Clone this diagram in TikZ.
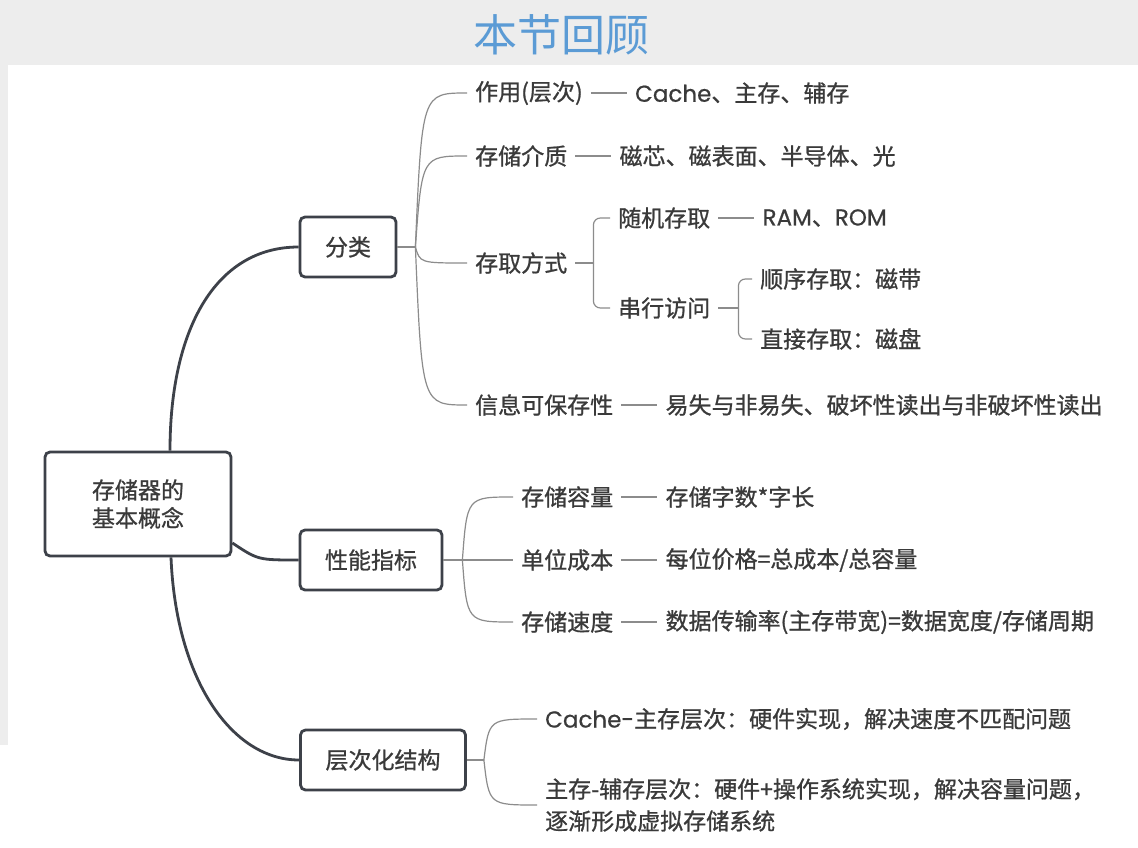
\documentclass[tikz,border=0pt]{standalone}
\usepackage{fontspec}
\setmainfont{Noto Sans CJK SC}[FakeBold=0.9]
\newfontfamily\ttlf{Noto Sans CJK SC}
\newfontfamily\latf{Poppins}[FakeBold=0.6]
\newcommand\enw[1]{{\latf #1}}
\usetikzlibrary{positioning}
\definecolor{boxc}{HTML}{3D4149}
\definecolor{txtc}{HTML}{3A3A3A}
\definecolor{linec}{HTML}{8C8C8C}
\definecolor{ttlc}{HTML}{5B9BD5}
\definecolor{bgc}{HTML}{EDEDED}
\tikzset{
	mainbox/.style={draw=boxc,line width=2.8pt,rounded corners=5pt,fill=white,text=txtc,font=\fontsize{23}{28}\selectfont,minimum height=60pt,inner xsep=25pt,align=center},
	leaf/.style={text=txtc,font=\fontsize{23}{32}\selectfont,inner xsep=8pt,inner ysep=2pt,anchor=west},
	val/.style={leaf,right=36pt of #1},
	trunk/.style={draw=boxc,line width=2.8pt},
	twig/.style={draw=linec,line width=1.2pt},
}
\begin{document}
\begin{tikzpicture}[x=1pt,y=-1pt]
	\fill[bgc] (0,0) rectangle (1138,848);
	\fill[white] (8,65) rectangle (1138,848);
	\fill[white] (0,745) rectangle (8,848);
	\useasboundingbox (0,0) rectangle (1138,848);
	\node[text=ttlc,font=\ttlf\fontsize{44}{44}\selectfont] (ttl) at (561,35) {本节回顾};
	
	\node[mainbox,minimum width=186pt,minimum height=104pt] (root) at (138,504) {存储器的\\基本概念};
	\node[mainbox] (fl) at (348,247) {分类};
	\node[mainbox] (xn) at (371,560) {性能指标};
	\node[mainbox] (cc) at (383,760) {层次化结构};
	
	\draw[trunk] ([xshift=32pt]root.north) .. controls (170,330) and (215,247) .. (fl.west);
	\draw[trunk] ([yshift=-39pt]root.east) .. controls (258,560) .. (xn.west);
	\draw[trunk] ([xshift=33pt]root.south) .. controls (176,680) and (232,760) .. (cc.west);
	
	\coordinate[right=18pt of fl.east] (f1);
	\coordinate[right=19pt of xn.east] (f2);
	\coordinate[right=17pt of cc.east] (f3);
	
	\node[leaf] (zy) at (467,93) {作用(层次)};
	\node[val=zy] (zyv) {\enw{Cache}、主存、辅存};
	\node[leaf] (jz) at (467,156) {存储介质};
	\node[val=jz] (jzv) {磁芯、磁表面、半导体、光};
	\node[leaf] (fs) at (467,263) {存取方式};
	\node[leaf] (sj) at (610,218) {随机存取};
	\node[val=sj] (sjv) {\enw{RAM}、\enw{ROM}};
	\node[leaf] (cx) at (610,308) {串行访问};
	\node[leaf] (sx) at (752,279) {顺序存取：磁带};
	\node[leaf] (zj) at (752,339) {直接存取：磁盘};
	\node[leaf] (bc) at (467,405) {信息可保存性};
	\node[val=bc] (bcv) {易失与非易失、破坏性读出与非破坏性读出};
	
	\node[leaf] (rl) at (513,497) {存储容量};
	\node[val=rl] (rlv) {存储字数*字长};
	\node[leaf] (cb) at (513,560) {单位成本};
	\node[val=cb] (cbv) {每位价格=总成本/总容量};
	\node[leaf] (sd) at (513,622) {存储速度};
	\node[val=sd] (sdv) {数据传输率(主存带宽)=数据宽度/存储周期};
	
	\node[leaf] (ch) at (537,719) {\enw{Cache-}主存层次：硬件实现，解决速度不匹配问题};
	\node[leaf,align=left] (fc) at (537,805) {主存-辅存层次：硬件+操作系统实现，解决容量问题，\\逐渐形成虚拟存储系统};
	
	\draw[twig] (fl.east) -- (f1);
	\draw[twig] (f1) .. controls (422,93) .. (zy.west);
	\draw[twig] (f1) .. controls (422,156) .. (jz.west);
	\draw[twig] (f1) .. controls (420,263) .. (fs.west);
	\draw[twig] (f1) .. controls (422,405) .. (bc.west);
	\draw[twig] (zy) -- (zyv);
	\draw[twig] (jz) -- (jzv);
	\draw[twig] (bc) -- (bcv);
	
	\coordinate[right=18pt of fs.east] (f4);
	\draw[twig] (fs) -- (f4);
	\draw[twig,rounded corners=7pt] (f4) |- (sj.west);
	\draw[twig,rounded corners=7pt] (f4) |- (cx.west);
	\draw[twig] (sj) -- (sjv);
	\coordinate[right=20pt of cx.east] (f5);
	\draw[twig] (cx) -- (f5);
	\draw[twig,rounded corners=7pt] (f5) |- (sx.west);
	\draw[twig,rounded corners=7pt] (f5) |- (zj.west);
	
	\draw[twig] (xn.east) -- (f2);
	\draw[twig] (f2) .. controls (467,497) .. (rl.west);
	\draw[twig] (f2) -- (cb.west);
	\draw[twig] (f2) .. controls (467,622) .. (sd.west);
	\draw[twig] (rl) -- (rlv);
	\draw[twig] (cb) -- (cbv);
	\draw[twig] (sd) -- (sdv);
	
	\draw[twig] (cc.east) -- (f3);
	\draw[twig] (f3) .. controls (489,719) .. (ch.west);
	\draw[twig] (f3) .. controls (489,805) .. (fc.west);
\end{tikzpicture}
\end{document}
